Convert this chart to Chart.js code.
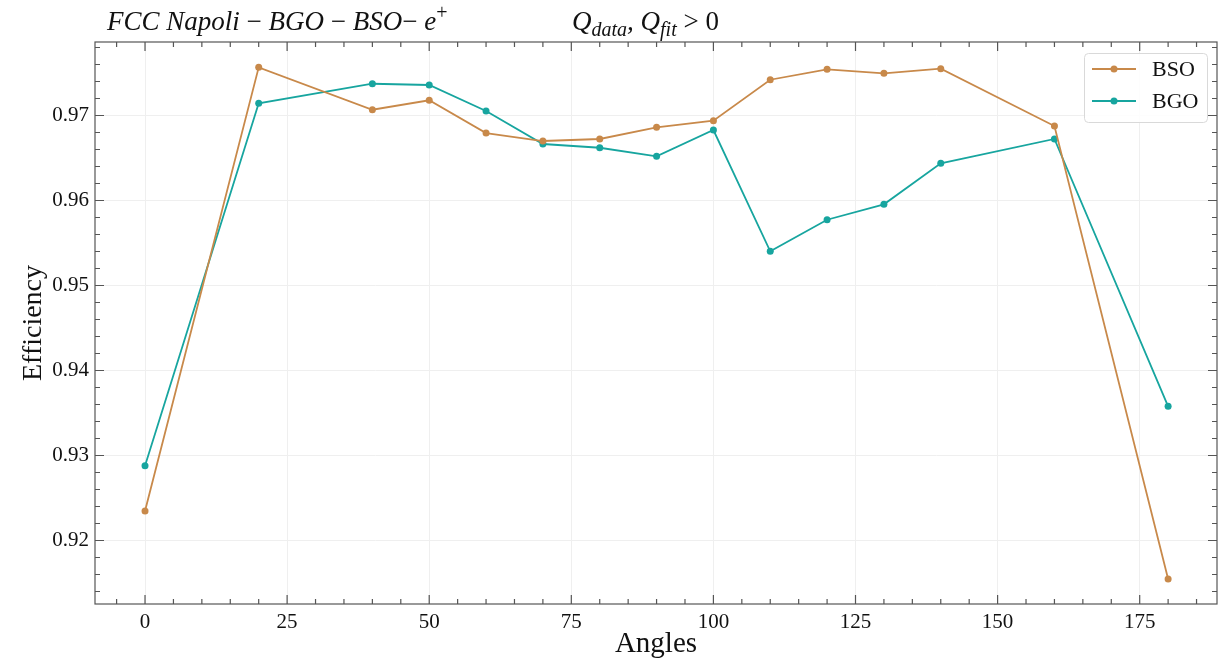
<!DOCTYPE html>
<html>
<head>
<meta charset="utf-8">
<script src="https://cdn.jsdelivr.net/npm/chart.js@4.4.1/dist/chart.umd.min.js"></script>
<style>
  html, body { margin: 0; padding: 0; background: #fff; }
  #wrap { width: 1222px; height: 663px; }
</style>
</head>
<body>
<div id="wrap"><canvas id="effChart" width="1222" height="663"></canvas></div>
<script>
// data
const angles = [0, 20, 40, 50, 60, 70, 80, 90, 100, 110, 120, 130, 140, 160, 180];
const bsoEff = [0.92347, 0.97567, 0.97068, 0.97179, 0.96794, 0.96700, 0.96724, 0.96861,
                0.96939, 0.97421, 0.97544, 0.97496, 0.97551, 0.96876, 0.91547];
const bgoEff = [0.92880, 0.97144, 0.97374, 0.97359, 0.97053, 0.96665, 0.96621, 0.96520,
                0.96829, 0.95402, 0.95774, 0.95955, 0.96438, 0.96724, 0.93579];
const xTicks = [0, 25, 50, 75, 100, 125, 150, 175];
const yTicks = [0.92, 0.93, 0.94, 0.95, 0.96, 0.97];
const seriesNames = ['BSO', 'BGO'];

const SERIF = '"Liberation Serif", "DejaVu Serif", serif';
const BSO_COLOR = '#c8894a';
const BGO_COLOR = '#17a59f';
const AXIS_COLOR = '#555';

// inward ticks + full box like the matplotlib style
const boxTicks = {
  id: 'boxTicks',
  afterDraw(chart) {
    const { ctx, chartArea: a, scales: { x, y } } = chart;
    ctx.save();
    ctx.strokeStyle = AXIS_COLOR;
    ctx.lineWidth = 1.2;
    ctx.strokeRect(a.left, a.top, a.right - a.left, a.bottom - a.top);
    ctx.beginPath();
    for (let k = -2; k <= 38; k++) {
      const px = x.getPixelForValue(k * 5);
      if (px < a.left || px > a.right) continue;
      const len = k % 5 === 0 ? 9 : 5;
      ctx.moveTo(px, a.bottom); ctx.lineTo(px, a.bottom - len);
      ctx.moveTo(px, a.top); ctx.lineTo(px, a.top + len);
    }
    for (let k = 455; k <= 490; k++) {
      const py = y.getPixelForValue(k * 0.002);
      if (py < a.top || py > a.bottom) continue;
      const len = k % 5 === 0 ? 9 : 5;
      ctx.moveTo(a.left, py); ctx.lineTo(a.left + len, py);
      ctx.moveTo(a.right, py); ctx.lineTo(a.right - len, py);
    }
    ctx.stroke();
    ctx.restore();
  }
};

// title line with sub/superscripts
const mathTitle = {
  id: 'mathTitle',
  afterDraw(chart) {
    const ctx = chart.ctx;
    ctx.save();
    ctx.fillStyle = '#111';
    ctx.textBaseline = 'alphabetic';
    const base = 30;
    let xx = 107;
    const put = (txt, style, size, dy) => {
      ctx.font = `${style} ${size}px ${SERIF}`;
      ctx.fillText(txt, xx, base + (dy || 0));
      xx += ctx.measureText(txt).width;
    };
    put('FCC Napoli ', 'italic', 27);
    put('\u2212 ', 'normal', 27);
    put('BGO ', 'italic', 27);
    put('\u2212 ', 'normal', 27);
    put('BSO', 'italic', 27);
    put('\u2212 ', 'normal', 27);
    put('e', 'italic', 27);
    put('+', 'normal', 20, -11);

    xx = 572;
    put('Q', 'italic', 27);
    put('data', 'italic', 20, 6);
    put(', ', 'italic', 27);
    put('Q', 'italic', 27);
    put('fit', 'italic', 20, 6);
    put(' > 0', 'normal', 27);
    ctx.restore();
  }
};

// legend box with line+marker samples
const lineLegend = {
  id: 'lineLegend',
  afterDraw(chart) {
    const ctx = chart.ctx;
    const bx = 1084, by = 53, bw = 123, bh = 69;
    ctx.save();
    ctx.fillStyle = 'rgba(255,255,255,0.85)';
    ctx.strokeStyle = '#d9d9d9';
    ctx.lineWidth = 1;
    ctx.beginPath();
    ctx.roundRect(bx + 0.5, by + 0.5, bw, bh, 4);
    ctx.fill(); ctx.stroke();
    chart.data.datasets.forEach((ds, i) => {
      const ly = 69 + i * 32;
      ctx.strokeStyle = ds.borderColor;
      ctx.lineWidth = 1.8;
      ctx.beginPath(); ctx.moveTo(1092, ly); ctx.lineTo(1136, ly); ctx.stroke();
      ctx.fillStyle = ds.backgroundColor;
      ctx.beginPath(); ctx.arc(1114, ly, 3.5, 0, Math.PI * 2); ctx.fill();
      ctx.fillStyle = '#111';
      ctx.font = `22px ${SERIF}`;
      ctx.textBaseline = 'middle';
      ctx.fillText(ds.label, 1152, ly + 1);
    });
    ctx.restore();
  }
};

const toPoints = vals => angles.map((a, i) => ({ x: a, y: vals[i] }));

new Chart(document.getElementById('effChart'), {
  type: 'line',
  data: {
    datasets: [
      { label: seriesNames[0], data: toPoints(bsoEff), borderColor: BSO_COLOR, backgroundColor: BSO_COLOR,
        borderWidth: 1.8, pointRadius: 3.5, pointHoverRadius: 3.5, pointBorderWidth: 0, tension: 0 },
      { label: seriesNames[1], data: toPoints(bgoEff), borderColor: BGO_COLOR, backgroundColor: BGO_COLOR,
        borderWidth: 1.8, pointRadius: 3.5, pointHoverRadius: 3.5, pointBorderWidth: 0, tension: 0 }
    ]
  },
  options: {
    responsive: false,
    animation: false,
    devicePixelRatio: 1,
    layout: { padding: { top: 42, right: 5, left: 0, bottom: 0 } },
    plugins: { legend: { display: false }, title: { display: false }, tooltip: { enabled: false } },
    scales: {
      x: {
        type: 'linear',
        min: -8.8, max: 188.6,
        afterBuildTicks: s => { s.ticks = xTicks.map(v => ({ value: v })); },
        afterFit: s => { s.height = 59; },
        grid: { color: '#efefef', lineWidth: 1, drawTicks: false },
        border: { display: false },
        ticks: { color: '#111', padding: 6, font: { family: SERIF, size: 21 }, maxRotation: 0,
                 callback: v => String(v) },
        title: { display: true, text: 'Angles', color: '#111', font: { family: SERIF, size: 29 },
                 padding: { top: 0, bottom: 1 } }
      },
      y: {
        type: 'linear',
        min: 0.91253, max: 0.97865,
        afterBuildTicks: s => { s.ticks = yTicks.map(v => ({ value: v })); },
        afterFit: s => { s.width = 95; },
        grid: { color: '#efefef', lineWidth: 1, drawTicks: false },
        border: { display: false },
        ticks: { color: '#111', padding: 6, font: { family: SERIF, size: 21 },
                 callback: v => v.toFixed(2) },
        title: { display: true, text: 'Efficiency', color: '#111', font: { family: SERIF, size: 28 },
                 padding: { top: 17, bottom: 0 } }
      }
    }
  },
  plugins: [boxTicks, mathTitle, lineLegend]
});
</script>
</body>
</html>
